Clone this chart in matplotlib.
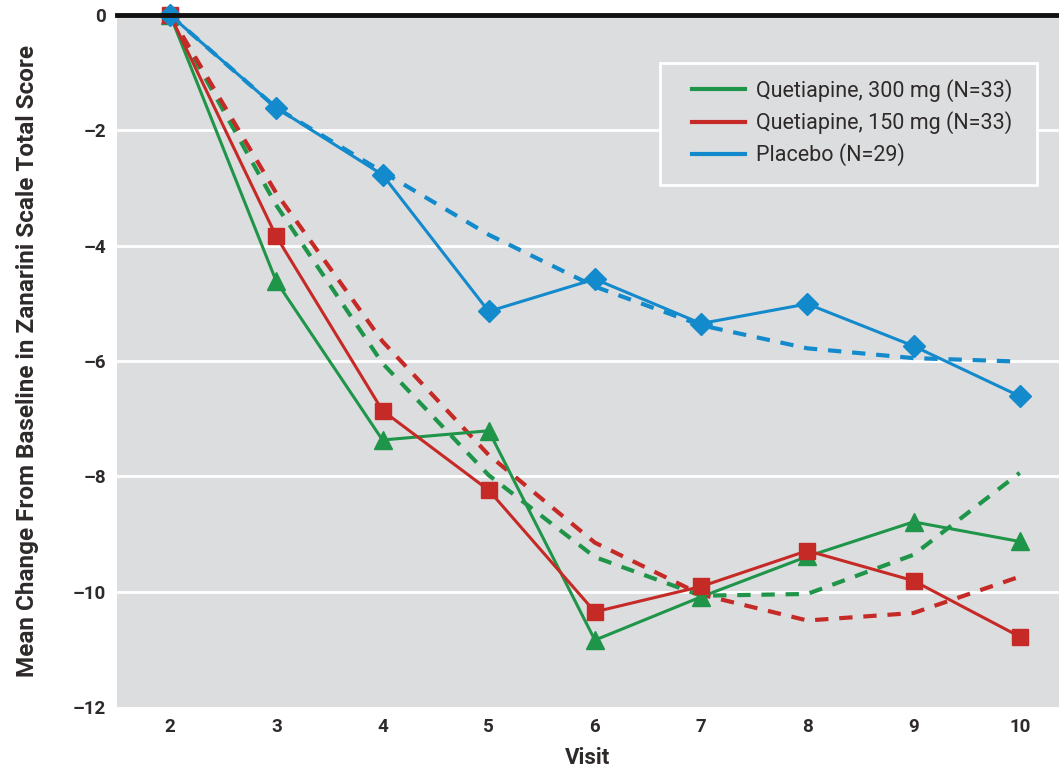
import matplotlib
matplotlib.use("Agg")
import matplotlib.pyplot as plt
from matplotlib.patches import Rectangle

visits = [2, 3, 4, 5, 6, 7, 8, 9, 10]

q300_obs = [0, -4.62, -7.37, -7.21, -10.84, -10.09, -9.39, -8.79, -9.13]
q300_fit = [0, -3.30, -6.04, -7.98, -9.40, -10.07, -10.04, -9.36, -7.94]
q150_obs = [0, -3.84, -6.86, -8.24, -10.35, -9.91, -9.29, -9.81, -10.78]
q150_fit = [0, -3.09, -5.66, -7.63, -9.15, -10.05, -10.50, -10.37, -9.74]
plc_obs = [0, -1.61, -2.77, -5.14, -4.58, -5.35, -5.01, -5.74, -6.61]
plc_fit = [0, -1.61, -2.72, -3.81, -4.71, -5.38, -5.78, -5.95, -6.01]

labels = ["Quetiapine, 300 mg (N=33)", "Quetiapine, 150 mg (N=33)", "Placebo (N=29)"]
yticks = [0, -2, -4, -6, -8, -10, -12]
ytick_labels = ["0", "\u20132", "\u20134", "\u20136", "\u20138", "\u201310", "\u201312"]

GREEN = "#1e9548"
RED = "#c52a26"
BLUE = "#138acb"
TXT = "#2e2a2a"

plt.rcParams['font.family'] = ['Roboto', 'DejaVu Sans']

W, H = 1059, 769
AX_L, AX_R, AX_T, AX_B = 117, 1059, 15, 707

fig = plt.figure(figsize=(W/100, H/100), dpi=100)
ax = fig.add_axes([AX_L/W, (H-AX_B)/H, (AX_R-AX_L)/W, (AX_B-AX_T)/H])
ax.set_facecolor("#dcdddf")
ax.set_xlim(1.5, 10.37)
ax.set_ylim(-12, 0)

for v in [-2, -4, -6, -8, -10]:
    ax.axhline(v, color="white", lw=2, zorder=1)
ax.axhline(0, color="#111111", lw=3.5, zorder=6, clip_on=False)

for s in ax.spines.values():
    s.set_visible(False)

series = [
    (q300_obs, q300_fit, GREEN, "^", 13),
    (q150_obs, q150_fit, RED, "s", 12),
    (plc_obs, plc_fit, BLUE, "D", 11),
]
handles = []
for (obs, fit, c, m, ms), lab in zip(series, labels):
    ax.plot(visits, fit, color=c, lw=3, ls=(0, (3.2, 2.6)), zorder=3)
    ax.plot(visits, obs, color=c, lw=2.2, marker=m, markersize=ms, zorder=4, clip_on=False)
    handles.append(plt.Line2D([], [], color=c, lw=3))

def ax_x(px):
    return (px - AX_L) / (AX_R - AX_L)

def ax_y(py):
    return 1 - (py - AX_T) / (AX_B - AX_T)

# legend box
box = Rectangle((ax_x(660), ax_y(185)), ax_x(1037) - ax_x(660), ax_y(63) - ax_y(185),
                transform=ax.transAxes, facecolor="#dcdddf", edgecolor="white",
                lw=2, zorder=7)
ax.add_patch(box)

leg = ax.legend(handles, labels, loc="upper left",
                bbox_to_anchor=(ax_x(692), ax_y(79)),
                frameon=False, fontsize=15.5, handlelength=2.46,
                handletextpad=0.5, borderpad=0, labelspacing=0.43, borderaxespad=0)
leg.set_zorder(8)
for t in leg.get_texts():
    t.set_color(TXT)

ax.set_xticks(visits)
ax.set_xticklabels([str(v) for v in visits], fontsize=13.5, fontweight="bold", color=TXT)
ax.set_yticks(yticks)
ax.set_yticklabels(ytick_labels, fontsize=13.5, fontweight="bold", color=TXT)
ax.tick_params(length=0, pad=8)
ax.set_xlabel("Visit", fontsize=16, fontweight="bold", color=TXT, labelpad=8)
ax.set_ylabel("Mean Change From Baseline in Zanarini Scale Total Score", fontsize=17.5,
              fontweight="bold", color=TXT, labelpad=24)

fig.savefig("out.png", dpi=100)
